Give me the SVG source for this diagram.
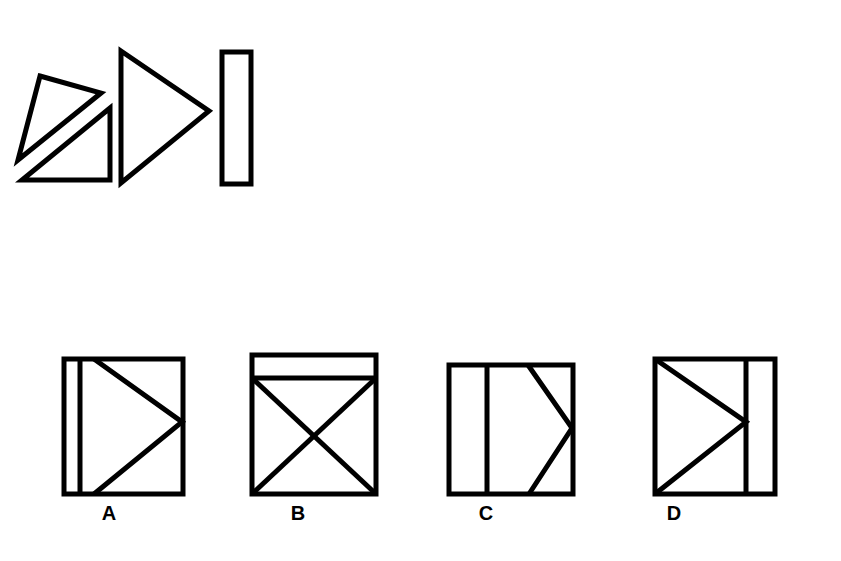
<svg xmlns="http://www.w3.org/2000/svg" width="841" height="561" viewBox="0 0 841 561">
<style>
.s{fill:none;stroke:#000;stroke-width:5;stroke-linejoin:miter}
.l{font-family:"Liberation Sans",Arial,sans-serif;font-weight:bold;font-size:20px;fill:#000;text-anchor:middle}
</style>
<rect width="841" height="561" fill="#fff"/>
<g id="question">
<polygon class="s" points="40,76 101,93 18,160"/>
<polygon class="s" points="110,108 22,180 110,180"/>
<polygon class="s" points="121,51 209,111 121,183"/>
<rect class="s" x="222" y="52" width="29" height="132"/>
</g>
<g id="optionA">
<rect class="s" x="64" y="359" width="119" height="135"/>
<line class="s" x1="80" y1="359" x2="80" y2="494"/>
<polyline class="s" points="94,359 182,422 94,494"/>
<text class="l" x="109" y="520">A</text>
</g>
<g id="optionB">
<rect class="s" x="252" y="355" width="124" height="139"/>
<line class="s" x1="252" y1="378" x2="376" y2="378"/>
<line class="s" x1="252" y1="378" x2="376" y2="494"/>
<line class="s" x1="376" y1="378" x2="252" y2="494"/>
<text class="l" x="298" y="520">B</text>
</g>
<g id="optionC">
<rect class="s" x="449" y="365" width="124" height="129"/>
<line class="s" x1="487" y1="365" x2="487" y2="494"/>
<polyline class="s" points="528,365 572,428 529,494"/>
<text class="l" x="486" y="520">C</text>
</g>
<g id="optionD">
<rect class="s" x="655" y="359" width="120" height="135"/>
<line class="s" x1="746" y1="359" x2="746" y2="494"/>
<polyline class="s" points="655,359 746,422 655,494"/>
<text class="l" x="674" y="520">D</text>
</g>
</svg>
